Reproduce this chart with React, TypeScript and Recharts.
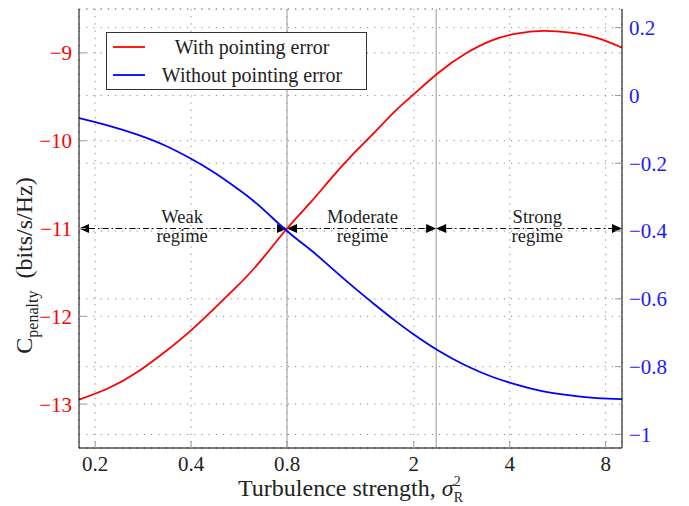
import React from "react";
import {
  ComposedChart,
  Line,
  XAxis,
  YAxis,
  CartesianGrid,
  ReferenceLine,
  ReferenceDot,
  Legend,
} from "recharts";

const FONT = '"Liberation Serif", "Times New Roman", serif';

// turbulence strength (sigma_R^2), log axis
const sigma2 = [0.178, 0.22, 0.27, 0.33, 0.4, 0.47, 0.55, 0.65, 0.8, 0.95, 1.1, 1.3, 1.5, 1.75, 2.0, 2.4, 2.9, 3.5, 4.2, 5.1, 6.2, 7.5, 9.0];
// left axis (red)
const withPointing = [-12.95, -12.82, -12.64, -12.41, -12.16, -11.92, -11.68, -11.4, -11.0, -10.7, -10.43, -10.14, -9.91, -9.66, -9.47, -9.22, -9.01, -8.86, -8.78, -8.75, -8.77, -8.83, -8.94];
// right axis (blue)
const withoutPointing = [-0.067, -0.089, -0.115, -0.147, -0.187, -0.226, -0.27, -0.323, -0.4, -0.456, -0.508, -0.567, -0.615, -0.665, -0.705, -0.754, -0.796, -0.829, -0.853, -0.873, -0.885, -0.893, -0.896];

const xTicks = [0.2, 0.4, 0.8, 2, 4, 8];
const leftTicks = [-13, -12, -11, -10, -9];
const rightTicks = [-1, -0.8, -0.6, -0.4, -0.2, 0, 0.2];

const regimeEdges = [0.178, 0.8, 2.35, 9.0];
const regimeNames = ["Weak", "Moderate", "Strong"];
const regimeLabelAt = [0.375, 1.38, 4.88];
const regimeLevel = -11;

const data = sigma2.map((x, i) => ({
  x,
  withPE: withPointing[i],
  withoutPE: withoutPointing[i],
}));

const minus = (v: number) => String(v).replace("-", "\u2212");

function ArrowSpan(props: any) {
  const { x1, y1, x2 } = props;
  const L = 10;
  const H = 4.5;
  return (
    <g>
      <line
        x1={x1 + L}
        y1={y1}
        x2={x2 - L}
        y2={y1}
        stroke="#000"
        strokeWidth={1}
        strokeDasharray="6 3 1.5 3"
      />
      <polygon points={`${x1},${y1} ${x1 + L},${y1 - H} ${x1 + L},${y1 + H}`} fill="#000" />
      <polygon points={`${x2},${y1} ${x2 - L},${y1 - H} ${x2 - L},${y1 + H}`} fill="#000" />
    </g>
  );
}

function regimeText(name: string) {
  return (props: any) => (
    <g fontFamily={FONT} fontSize={18.5} fill="#222" textAnchor="middle">
      <text x={props.cx} y={props.cy - 6}>{name}</text>
      <text x={props.cx} y={props.cy + 13}>regime</text>
    </g>
  );
}

function XLabel(props: any) {
  const vb = props.viewBox;
  return (
    <text
      x={vb.x + vb.width / 2}
      y={vb.y + 48}
      textAnchor="middle"
      fontFamily={FONT}
      fontSize={24}
      fill="#222"
    >
      Turbulence strength,{" "}
      <tspan fontStyle="italic">σ</tspan>
      <tspan dy={-10} fontSize={14}>2</tspan>
      <tspan dx={-7} dy={16} fontSize={14}>R</tspan>
    </text>
  );
}

function YLabel(props: any) {
  const vb = props.viewBox;
  const cy = vb.y + vb.height / 2 + 37;
  return (
    <text
      transform={`translate(32,${cy}) rotate(-90)`}
      textAnchor="middle"
      fontFamily={FONT}
      fontSize={24}
      fill="#222"
    >
      C
      <tspan dy={6} fontSize={16}>penalty</tspan>
      <tspan dy={-6}>{"\u2002(bits/s/Hz)"}</tspan>
    </text>
  );
}

function LegendBox({ payload }: any) {
  return (
    <div
      style={{
        border: "1px solid #333",
        background: "#fff",
        width: 261,
        height: 58,
        boxSizing: "border-box",
        fontFamily: FONT,
        fontSize: 20,
        color: "#222",
      }}
    >
      {(payload || []).map((p: any) => (
        <div key={p.value} style={{ display: "flex", alignItems: "center", height: 28 }}>
          <svg width={32} height={4} style={{ marginLeft: 6, flex: "none" }}>
            <line x1={0} y1={2} x2={32} y2={2} stroke={p.color} strokeWidth={1.8} />
          </svg>
          <span style={{ flex: 1, textAlign: "center", paddingRight: 7 }}>{p.value}</span>
        </div>
      ))}
    </div>
  );
}

export default function App() {
  return (
    <div style={{ position: "absolute", left: 0, top: 0, background: "#fff" }}>
      <ComposedChart
        width={689}
        height={506}
        data={data}
        margin={{ top: 9, right: 0, bottom: 0, left: 0 }}
      >
        <CartesianGrid yAxisId="left" stroke="#888" strokeDasharray="1.2 6" />
        <CartesianGrid yAxisId="right" vertical={false} stroke="#888" strokeDasharray="1.2 6" />
        <XAxis
          dataKey="x"
          type="number"
          scale="log"
          domain={[0.178, 9.0]}
          allowDataOverflow
          ticks={xTicks}
          height={58}
          tickSize={-7}
          tickMargin={15}
          tickLine={{ stroke: "#999" }}
          axisLine={{ stroke: "#000" }}
          tick={{ fill: "#222", fontSize: 21, fontFamily: FONT }}
          label={<XLabel />}
        />
        <XAxis
          xAxisId="top"
          orientation="top"
          type="number"
          scale="log"
          domain={[0.178, 9.0]}
          allowDataOverflow
          ticks={xTicks}
          height={0}
          tickSize={-7}
          tick={false}
          tickLine={{ stroke: "#999" }}
          axisLine={{ stroke: "#000" }}
        />
        <YAxis
          yAxisId="left"
          domain={[-13.5, -8.5]}
          ticks={leftTicks}
          width={79}
          tickSize={-7}
          tickMargin={14}
          tickLine={{ stroke: "#999" }}
          axisLine={{ stroke: "#000" }}
          tick={{ fill: "#ff0000", fontSize: 21, fontFamily: FONT }}
          tickFormatter={minus}
          label={<YLabel />}
        />
        <YAxis
          yAxisId="right"
          orientation="right"
          domain={[-1.04, 0.255]}
          allowDataOverflow
          ticks={rightTicks}
          width={67}
          tickSize={-7}
          tickMargin={14}
          tickLine={{ stroke: "#999" }}
          axisLine={{ stroke: "#000" }}
          tick={{ fill: "#1a1aff", fontSize: 21, fontFamily: FONT }}
          tickFormatter={minus}
        />
        {regimeEdges.slice(1, -1).map((e) => (
          <ReferenceLine key={`b${e}`} yAxisId="left" x={e} stroke="#999" strokeWidth={1} />
        ))}
        {regimeNames.map((n, i) => (
          <ReferenceLine
            key={`a${n}`}
            yAxisId="left"
            ifOverflow="visible"
            segment={[
              { x: regimeEdges[i], y: regimeLevel },
              { x: regimeEdges[i + 1], y: regimeLevel },
            ]}
            shape={ArrowSpan}
          />
        ))}
        {regimeNames.map((n, i) => (
          <ReferenceDot
            key={`t${n}`}
            yAxisId="left"
            x={regimeLabelAt[i]}
            y={regimeLevel}
            r={0}
            ifOverflow="visible"
            shape={regimeText(n)}
          />
        ))}
        <Line
          yAxisId="left"
          type="natural"
          dataKey="withPE"
          name="With pointing error"
          stroke="#ff0000"
          strokeWidth={1.8}
          dot={false}
          isAnimationActive={false}
        />
        <Line
          yAxisId="right"
          type="natural"
          dataKey="withoutPE"
          name="Without pointing error"
          stroke="#0000ff"
          strokeWidth={1.8}
          dot={false}
          isAnimationActive={false}
        />
        <Legend
          layout="vertical"
          align="center"
          verticalAlign="middle"
          content={<LegendBox />}
          wrapperStyle={{ left: 106, top: 32, width: 261, height: 58 }}
        />
      </ComposedChart>
    </div>
  );
}
